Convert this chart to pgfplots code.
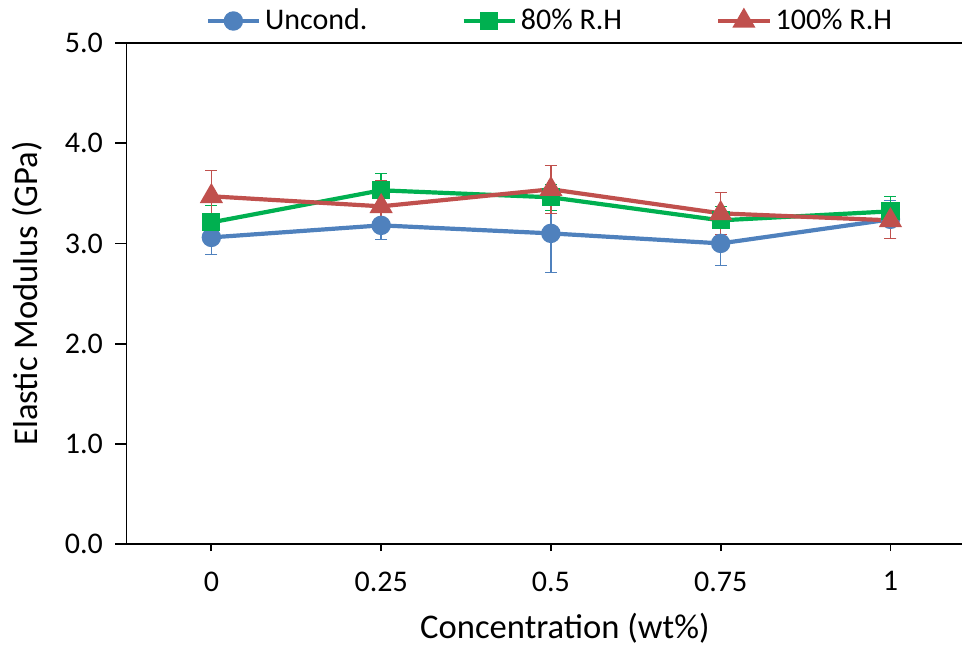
\documentclass[border=0pt]{standalone}
\usepackage{pgfplots}
\pgfplotsset{compat=1.18}
\usepackage{fontspec}
\setmainfont{Carlito}
\definecolor{cblue}{HTML}{4F81BD}
\definecolor{cgreen}{HTML}{00B050}
\definecolor{cred}{HTML}{C0504D}
\begin{document}
\begin{tikzpicture}
\begin{axis}[
  at={(0,0)}, anchor=south west,
  scale only axis,
  width=424.4pt, height=250.5pt,
  xmin=-0.125, xmax=1.125,
  ymin=0, ymax=5,
  axis x line=box,
  axis y line=left,
  y axis line style={-},
  axis line style={line width=0.9pt, black},
  xtick={0,0.25,0.5,0.75,1},
  xticklabels={0,0.25,0.5,0.75,1},
  xtick pos=bottom,
  ytick={0,1,2,3,4,5},
  yticklabel style={/pgf/number format/fixed, /pgf/number format/fixed zerofill, /pgf/number format/precision=1, xshift=-4pt},
  /pgf/number format/assume math mode=true,
  tick align=outside,
  x tick style={black, line width=0.9pt, /pgfplots/major tick length=3.5pt},
  y tick style={black, line width=0.9pt, /pgfplots/major tick length=5.5pt},
  ticklabel style={font=\fontsize{15}{18}\selectfont},
  xticklabel style={yshift=-6pt},
  xlabel={Concentration (wt\%)},
  ylabel={Elastic Modulus (GPa)},
  label style={font=\fontsize{17.3}{20}\selectfont},
  xlabel style={yshift=-4pt, xshift=7pt},
  ylabel style={yshift=4.5pt},
  legend columns=3,
  legend style={draw=none, at={(0.5,1)}, anchor=center, yshift=11pt,
    font=\fontsize{15}{18}\selectfont, inner sep=0pt,
    /tikz/every even column/.append style={column sep=45pt}},
  legend image code/.code={\draw[mark repeat=2,mark phase=2] plot coordinates {(0cm,0cm)(0.45cm,0cm)(0.9cm,0cm)};},
  clip=false,
]
\addplot[cblue, line width=2.1pt, mark=*, mark size=3.8pt, mark options={solid, fill=cblue},
  error bars/.cd, y dir=both, y explicit,
  error bar style={line width=0.7pt, cblue},
  error mark options={rotate=90, mark size=3pt, line width=0.7pt, cblue}]
  coordinates {
  (0,3.06) +- (0,0.17)
  (0.25,3.18) +- (0,0.14)
  (0.5,3.10) +- (0,0.39)
  (0.75,3.00) +- (0,0.22)
  (1,3.24) +- (0,0.19)
  };
\addlegendentry{Uncond.}
\addplot[cgreen, line width=2.1pt, mark=square*, mark size=3.5pt, mark options={solid, fill=cgreen},
  error bars/.cd, y dir=both, y explicit,
  error bar style={line width=0.7pt, cgreen},
  error mark options={rotate=90, mark size=3pt, line width=0.7pt, cgreen}]
  coordinates {
  (0,3.21) +- (0,0.17)
  (0.25,3.53) +- (0,0.17)
  (0.5,3.46) +- (0,0.13)
  (0.75,3.23) +- (0,0.14)
  (1,3.32) +- (0,0.15)
  };
\addlegendentry{80\% R.H}
\addplot[cred, line width=2.1pt, mark=triangle*, mark size=4.6pt, mark options={solid, fill=cred},
  error bars/.cd, y dir=both, y explicit,
  error bar style={line width=0.7pt, cred},
  error mark options={rotate=90, mark size=3pt, line width=0.7pt, cred}]
  coordinates {
  (0,3.47) +- (0,0.26)
  (0.25,3.37) +- (0,0.26)
  (0.5,3.54) +- (0,0.24)
  (0.75,3.30) +- (0,0.21)
  (1,3.23) +- (0,0.18)
  };
\addlegendentry{100\% R.H}
\end{axis}
\pgfresetboundingbox
\path[use as bounding box] (-63.25pt,-51.5pt) rectangle (417.75pt,272pt);
\end{tikzpicture}
\end{document}
